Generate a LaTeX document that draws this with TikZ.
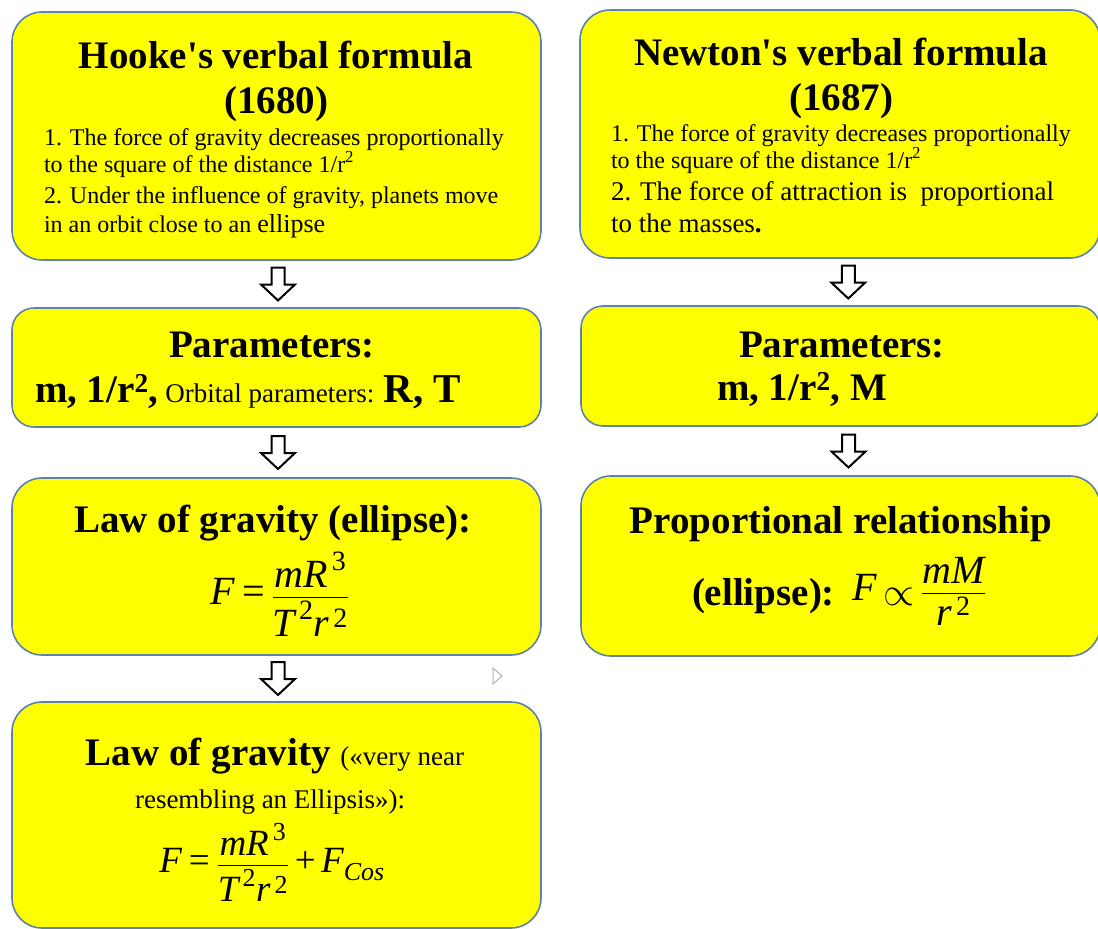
\documentclass[tikz,border=0pt]{standalone}
\usepackage{amsmath}
\usepackage{graphicx}
\usepackage{fontspec}
\setmainfont{Liberation Serif}
\newfontfamily\tnr{Liberation Serif}
\usetikzlibrary{calc}
\definecolor{boxyellow}{HTML}{FFFF00}
\definecolor{boxedge}{HTML}{5E82AD}
\newcommand\mi[1]{\textit{#1}}
\newcommand\titlefont{\tnr\fontsize{39}{45}\selectfont\bfseries}
\newcommand\bodyfont{\tnr\fontsize{24}{28}\selectfont}
\newcommand\bigbodyfont{\tnr\fontsize{27}{31}\selectfont}
\newcommand\formfont{\tnr\fontsize{40}{46}\selectfont}
\newcommand\formfontb{\tnr\fontsize{37}{43}\selectfont}
\newcommand\bigpropto{\mathrel{\raisebox{-5pt}{\scalebox{1.6}{$\propto$}}}}
\newcommand\blockdown[3]{%
  \draw[blockarr] let \p3=($(#1.south)!0.5!(#2.north)+(#3,0)$) in
    (\x3-6.5pt,\y3+16.5pt) -- (\x3+6.5pt,\y3+16.5pt) -- (\x3+6.5pt,\y3-0.5pt)
    -- (\x3+17pt,\y3-0.5pt) -- (\x3,\y3-16.5pt) -- (\x3-17pt,\y3-0.5pt)
    -- (\x3-6.5pt,\y3-0.5pt) -- cycle;}
\begin{document}
\begin{tikzpicture}[x=1pt,y=-1pt,
  box/.style={draw=boxedge, fill=boxyellow, line width=1.6pt, inner sep=0pt, outer sep=0pt, rounded corners=30pt},
  smallbox/.style={box, rounded corners=22pt},
  txt/.style={inner sep=0pt, outer sep=0pt, anchor=base},
  ltxt/.style={txt, anchor=base west},
  blockarr/.style={draw=black, fill=white, line width=2pt, line join=miter},
]
\useasboundingbox (0,0) rectangle (1098,929);

% boxes
\node[box, minimum width=529pt, minimum height=248pt] (L1) at (276.5,136) {};
\node[smallbox, minimum width=529pt, minimum height=119pt] (L2) at (276.5,367.5) {};
\node[box, minimum width=529pt, minimum height=177pt] (L3) at (276.5,566.5) {};
\node[box, minimum width=529pt, minimum height=226pt] (L4) at (276.5,815) {};
\node[box, minimum width=520pt, minimum height=248pt] (R1) at (840,134) {};
\node[smallbox, minimum width=519pt, minimum height=120pt] (R2) at (840.5,366) {};
\node[box, minimum width=519pt, minimum height=180pt] (R3) at (840.5,566) {};

% arrows
\blockdown{L1}{L2}{1.5pt}
\blockdown{L2}{L3}{1.5pt}
\blockdown{L3}{L4}{1.5pt}
\blockdown{R1}{R2}{8pt}
\blockdown{R2}{R3}{8pt}

% Hooke box
\node[txt, font=\titlefont] (h1) at (276,68) {Hooke's verbal formula};
\node[txt, font=\titlefont] (h2) at (276,113) {(1680)};
\node[ltxt, font=\bodyfont] (h3) at (44,145) {1. The force of gravity decreases proportionally};
\node[ltxt, font=\bodyfont] (h4) at (44,172) {to the square of the distance 1/r\textsuperscript{2}};
\node[ltxt, font=\bodyfont] (h5) at (44,203) {2. Under the influence of gravity, planets move};
\node[ltxt, font=\bodyfont] (h6) at (44,232) {in an orbit close to an {\fontsize{26}{30}\selectfont ellipse}};

% Newton box
\node[txt, font=\titlefont] (n1) at (841,65) {Newton's verbal formula};
\node[txt, font=\titlefont] (n2) at (841,110) {(1687)};
\node[ltxt, font=\bodyfont] (n3) at (611,141) {1. The force of gravity decreases proportionally};
\node[ltxt, font=\bodyfont] (n4) at (611,168) {to the square of the distance 1/r\textsuperscript{2}};
\node[ltxt, font=\bigbodyfont] (n5) at (611,200) {2. The force of attraction is\ \ proportional};
\node[ltxt, font=\bigbodyfont] (n6) at (611,232) {to the masses\textbf{.}};

% Parameters
\node[txt, font=\titlefont] (p1) at (272,357) {Parameters:};
\node[ltxt, font=\titlefont] (p2) at (35,402) {m, 1/r\textsuperscript{2},\mdseries\fontsize{27}{31}\selectfont{} Orbital parameters: \bfseries\fontsize{41}{45}\selectfont R, T};
\node[txt, font=\titlefont] (q1) at (842,357) {Parameters:};
\node[ltxt, font=\titlefont] (q2) at (717,400) {m, 1/r\textsuperscript{2}, M};

% Law of gravity (ellipse)
\node[txt, font=\titlefont] (g1) at (273,532) {Law of gravity (ellipse):};
\node[txt, font=\formfont] (g2) at (280,604)
  {$\mi{F} \mathrel{\text{=}} \dfrac{\mi{mR}^{\,\text{3}}}{\mi{T}^{\,\text{2}}\mi{r}^{\,\text{2}}}$};

% Law of gravity (very near)
\node[txt, font=\titlefont] (k1) at (275,765) {Law of gravity {\mdseries\fontsize{27}{31}\selectfont («very near}};
\node[txt, font=\tnr\fontsize{27}{31}\selectfont] (k2) at (270,808) {resembling an Ellipsis»):};
\node[txt, font=\formfontb] (k3) at (272,872)
  {$\mi{F} \mathrel{\text{=}} \dfrac{\mi{mR}^{\,\text{3}}}{\mi{T}^{\,\text{2}}\mi{r}^{\,\text{2}}} \mathbin{\text{+}} \mi{F}_{\mi{Cos}}$};

% Proportional relationship
\node[txt, font=\titlefont] (s1) at (841,533) {Proportional relationship};
\node[ltxt, font=\titlefont] (s2) at (692,605) {(ellipse):};
\node[ltxt, font=\formfont] (s3) at (852,600)
  {$\mi{F} \bigpropto \dfrac{\mi{mM}}{\mi{r}^{\,\text{2}}}$};

% small marker
\draw[gray!60, line width=1pt] (493,668) -- (502,676) -- (493,684) -- cycle;
\end{tikzpicture}
\end{document}
